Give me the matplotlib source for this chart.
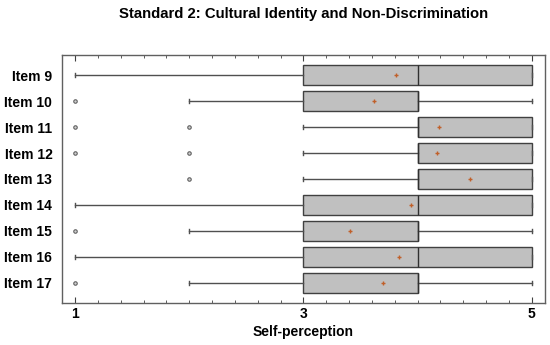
import matplotlib
matplotlib.use("Agg")
import matplotlib.pyplot as plt
from matplotlib.ticker import MultipleLocator, FixedLocator

items = ["Item 9", "Item 10", "Item 11", "Item 12", "Item 13",
         "Item 14", "Item 15", "Item 16", "Item 17"]
whislo = [1, 2, 3, 3, 3, 1, 2, 1, 2]
q1     = [3, 3, 4, 4, 4, 3, 3, 3, 3]
med    = [4, 4, 4, 4, 4, 4, 4, 4, 4]
q3     = [5, 4, 5, 5, 5, 5, 4, 5, 4]
whishi = [5, 5, 5, 5, 5, 5, 5, 5, 5]
means  = [3.81, 3.62, 4.19, 4.17, 4.46, 3.94, 3.41, 3.84, 3.70]
fliers = [[], [1], [1, 2], [1, 2], [2], [], [1], [], [1]]

plt.rcParams['font.family'] = ['Liberation Sans', 'DejaVu Sans']
plt.rcParams['font.weight'] = 'bold'

fig = plt.figure(figsize=(5.5, 3.45), dpi=100)
ax = fig.add_axes([62/550, 1 - 303/345, (545-62)/550, (303-55)/345])

stats = []
for i in range(len(items)):
    stats.append(dict(label=items[i], whislo=whislo[i], q1=q1[i], med=med[i],
                      q3=q3[i], whishi=whishi[i], fliers=fliers[i], mean=means[i]))

positions = list(range(len(items)))
ax.bxp(stats, positions=positions, vert=False, widths=0.77, patch_artist=True,
       showmeans=True, capwidths=0.17,
       boxprops=dict(facecolor="#c0c0c0", edgecolor="#404040", linewidth=1.0),
       medianprops=dict(color="#303030", linewidth=1.0),
       whiskerprops=dict(color="#505050", linewidth=1.0),
       capprops=dict(color="#505050", linewidth=1.0),
       flierprops=dict(marker="o", markersize=2.5, markerfacecolor="#d0d0d0",
                       markeredgecolor="#606060", markeredgewidth=0.8),
       meanprops=dict(marker="+", markersize=3.5, markeredgecolor="#c0602a",
                      markeredgewidth=1.0))

ax.set_xlim(0.885, 5.117)
ax.set_ylim(len(items) - 1 + 0.77, -0.77)
ax.xaxis.set_major_locator(FixedLocator([1, 3, 5]))
ax.xaxis.set_minor_locator(MultipleLocator(0.2))
ax.set_xticklabels(["1", "3", "5"], fontsize=10, fontweight="bold")
ax.set_yticks(positions)
ax.set_yticklabels(items, fontsize=10, fontweight="bold")
ax.tick_params(axis="x", which="major", direction="in", length=4, top=True,
               color="#404040", pad=3)
ax.tick_params(axis="x", which="minor", direction="in", length=2.5, top=True,
               color="#404040")
ax.tick_params(axis="y", length=0, pad=7)
for s in ax.spines.values():
    s.set_color("#606060")
    s.set_linewidth(1.0)

ax.set_xlabel("Self-perception", fontsize=10, fontweight="bold", labelpad=3)
fig.text(303.5/550, 1 - 14/345, "Standard 2: Cultural Identity and Non-Discrimination",
         ha="center", va="center", fontsize=10.7, fontweight="bold")

fig.savefig("out.png", dpi=100)
